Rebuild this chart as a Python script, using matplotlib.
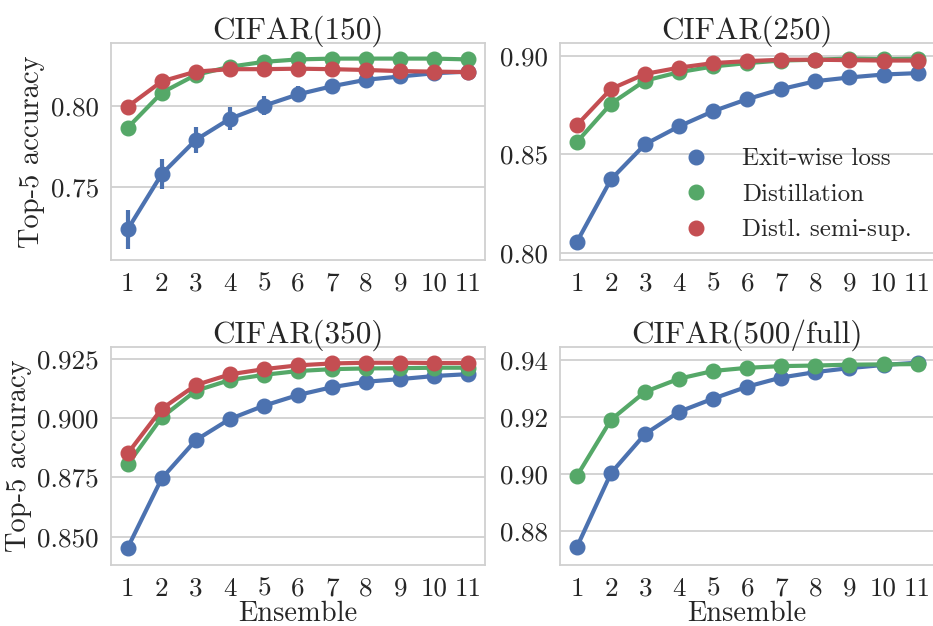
import matplotlib
matplotlib.use("Agg")
import matplotlib.pyplot as plt
from matplotlib.lines import Line2D
from matplotlib.ticker import MultipleLocator, FormatStrFormatter
import seaborn as sns

sns.set_style("whitegrid")
plt.rcParams['font.family'] = ['cmr10', 'DejaVu Serif']
plt.rcParams['axes.formatter.use_mathtext'] = True

ensemble = [1, 2, 3, 4, 5, 6, 7, 8, 9, 10, 11]
series_names = ['Exit-wise loss', 'Distillation', 'Distl. semi-sup.']
colors = ['#4C72B0', '#55A868', '#C44E52']

# CIFAR(150)
c150_exit = [0.724, 0.758, 0.779, 0.792, 0.800, 0.807, 0.812, 0.816, 0.818, 0.820, 0.821]
c150_exit_err = [0.012, 0.009, 0.008, 0.007, 0.006, 0.005, 0.003, 0.003, 0.002, 0.002, 0.002]
c150_dist = [0.7865, 0.808, 0.819, 0.824, 0.827, 0.8285, 0.829, 0.829, 0.829, 0.829, 0.8285]
c150_dist_err = [0.002, 0.002, 0.002, 0.001, 0.001, 0.001, 0.001, 0.001, 0.001, 0.001, 0.001]
c150_semi = [0.7995, 0.815, 0.821, 0.8225, 0.8225, 0.8228, 0.8225, 0.822, 0.8213, 0.821, 0.8207]
c150_semi_err = [0.002, 0.002, 0.002, 0.002, 0.003, 0.003, 0.003, 0.003, 0.003, 0.003, 0.004]

# CIFAR(250)
c250_exit = [0.8056, 0.8373, 0.8551, 0.8642, 0.8719, 0.878, 0.8831, 0.8871, 0.889, 0.8905, 0.8912]
c250_exit_err = [0.003, 0.002, 0.001, 0.001, 0.001, 0.001, 0.001, 0.001, 0.001, 0.001, 0.001]
c250_dist = [0.8563, 0.8757, 0.8874, 0.8917, 0.8946, 0.8963, 0.8976, 0.898, 0.8986, 0.8983, 0.8985]
c250_dist_err = [0.001] * 11
c250_semi = [0.8649, 0.8832, 0.8908, 0.894, 0.8963, 0.8973, 0.898, 0.898, 0.8978, 0.8976, 0.8976]
c250_semi_err = [0.001] * 11

# CIFAR(350)
c350_exit = [0.8454, 0.8746, 0.8907, 0.8996, 0.9052, 0.9097, 0.913, 0.9153, 0.9164, 0.9177, 0.9185]
c350_exit_err = [0.001] * 11
c350_dist = [0.8805, 0.9003, 0.9115, 0.916, 0.9182, 0.9198, 0.9206, 0.9209, 0.921, 0.9212, 0.9212]
c350_dist_err = [0.001] * 11
c350_semi = [0.8851, 0.9039, 0.9139, 0.9184, 0.9206, 0.9222, 0.923, 0.9233, 0.9233, 0.9232, 0.9232]
c350_semi_err = [0.001] * 11

# CIFAR(500/full)
c500_exit = [0.8746, 0.9005, 0.9142, 0.922, 0.9266, 0.9308, 0.934, 0.9359, 0.9373, 0.9384, 0.9392]
c500_exit_err = [0.0015, 0.001, 0.001, 0.001, 0.001, 0.001, 0.001, 0.001, 0.001, 0.001, 0.001]
c500_dist = [0.8995, 0.9192, 0.929, 0.9336, 0.9363, 0.9374, 0.938, 0.9382, 0.9385, 0.9386, 0.9387]
c500_dist_err = [0.001] * 11

panels = [
    ('CIFAR(150)', [(c150_exit, c150_exit_err), (c150_dist, c150_dist_err), (c150_semi, c150_semi_err)],
     (0.7051, 0.8386), 0.05, '%.2f'),
    ('CIFAR(250)', [(c250_exit, c250_exit_err), (c250_dist, c250_dist_err), (c250_semi, c250_semi_err)],
     (0.7963, 0.9065), 0.05, '%.2f'),
    ('CIFAR(350)', [(c350_exit, c350_exit_err), (c350_dist, c350_dist_err), (c350_semi, c350_semi_err)],
     (0.8381, 0.9298), 0.025, '%.3f'),
    ('CIFAR(500/full)', [(c500_exit, c500_exit_err), (c500_dist, c500_dist_err)],
     (0.8682, 0.9446), 0.02, '%.2f'),
]

W, H = 933, 626
fig = plt.figure(figsize=(W / 100, H / 100), dpi=100)
boxes = [(110.7, 43, 485.3, 260), (560, 43, 934.6, 260),
         (110.7, 347.3, 485.3, 565), (560, 347.3, 934.6, 565)]

for i, (title, series, ylim, step, fmt) in enumerate(panels):
    x0, y0, x1, y1 = boxes[i]
    ax = fig.add_axes([x0 / W, 1 - y1 / H, (x1 - x0) / W, (y1 - y0) / H])
    for j, (vals, err) in enumerate(series):
        pos = [k - 1 for k in ensemble]
        ax.errorbar(pos, vals, yerr=err, color=colors[j], lw=3, marker='o', ms=10.5,
                    elinewidth=3, capsize=0, zorder=3 + j)
    ax.set_xlim(-0.5, len(ensemble) - 0.5)
    ax.set_ylim(*ylim)
    ax.set_xticks(range(len(ensemble)))
    ax.set_xticklabels([str(k) for k in ensemble])
    ax.yaxis.set_major_locator(MultipleLocator(step))
    ax.yaxis.set_major_formatter(FormatStrFormatter(fmt))
    ax.grid(False, axis='x')
    ax.grid(True, axis='y', color='#d0d0d0', lw=1.3)
    for s in ax.spines.values():
        s.set_color('#d0d0d0')
        s.set_linewidth(1.3)
    ax.tick_params(labelsize=19.5, colors='#262626', pad=5)
    ax.set_title(title, fontsize=22.5, color='#262626', pad=3)
    if i % 2 == 0:
        ax.set_ylabel('Top-5 accuracy', fontsize=20.5, color='#262626', labelpad=4)
    if i >= 2:
        ax.set_xlabel('Ensemble', fontsize=20.5, color='#262626', labelpad=0)
    if i == 1:
        handles = [Line2D([], [], color=c, marker='o', ls='none', ms=10.5) for c in colors]
        ax.legend(handles, series_names, loc='lower right', frameon=False, fontsize=18,
                  handletextpad=0.84, labelspacing=0.52, borderaxespad=0.3,
                  bbox_to_anchor=(0.985, 0.005))

fig.savefig('out.png', dpi=100)
